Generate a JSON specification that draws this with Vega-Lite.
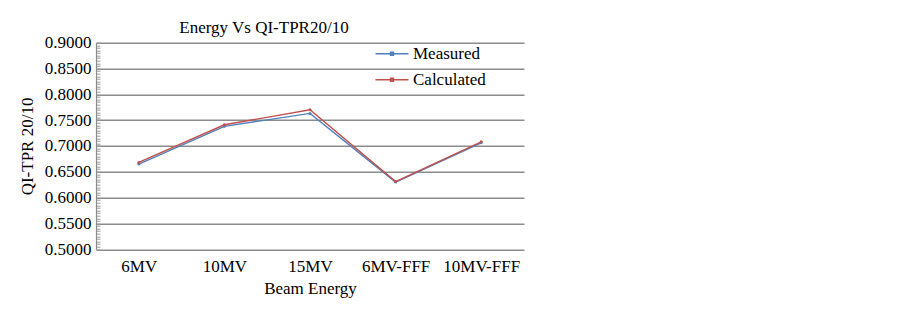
{
  "$schema": "https://vega.github.io/schema/vega-lite/v6.json",
  "autosize": {"type": "none"},
  "padding": {"left": 96, "top": 42.7, "right": 379, "bottom": 62.8},
  "width": 428,
  "height": 206.5,
  "background": "white",
  "title": {
    "text": "Energy Vs QI-TPR20/10",
    "font": "Liberation Serif",
    "fontSize": 17,
    "fontWeight": "normal",
    "color": "#000000",
    "anchor": "middle",
    "dx": -46,
    "offset": -3
  },
  "config": {
    "view": {"stroke": null},
    "font": "Liberation Serif"
  },
  "data": {
    "values": [
      {"energy": "6MV", "series": "Measured", "value": 0.665},
      {"energy": "10MV", "series": "Measured", "value": 0.738},
      {"energy": "15MV", "series": "Measured", "value": 0.763},
      {"energy": "6MV-FFF", "series": "Measured", "value": 0.630},
      {"energy": "10MV-FFF", "series": "Measured", "value": 0.706},
      {"energy": "6MV", "series": "Calculated", "value": 0.668},
      {"energy": "10MV", "series": "Calculated", "value": 0.741},
      {"energy": "15MV", "series": "Calculated", "value": 0.770},
      {"energy": "6MV-FFF", "series": "Calculated", "value": 0.631},
      {"energy": "10MV-FFF", "series": "Calculated", "value": 0.708}
    ]
  },
  "mark": {"type": "line", "strokeWidth": 1.4, "point": {"filled": true, "size": 9}},
  "encoding": {
    "x": {
      "field": "energy",
      "type": "nominal",
      "sort": ["6MV", "10MV", "15MV", "6MV-FFF", "10MV-FFF"],
      "scale": {"type": "point", "padding": 0.5},
      "axis": {
        "title": "Beam Energy",
        "labelAngle": 0,
        "domain": false,
        "ticks": false,
        "grid": false,
        "labelFont": "Liberation Serif",
        "labelFontSize": 17,
        "labelColor": "#000000",
        "labelPadding": 9,
        "titleFont": "Liberation Serif",
        "titleFontSize": 17,
        "titleFontWeight": "normal",
        "titleColor": "#000000",
        "titlePadding": 6
      }
    },
    "y": {
      "field": "value",
      "type": "quantitative",
      "scale": {"domain": [0.5, 0.9], "nice": false, "zero": false},
      "axis": {
        "title": "QI-TPR 20/10",
        "values": [0.5, 0.505, 0.51, 0.515, 0.52, 0.525, 0.53, 0.535, 0.54, 0.545, 0.55, 0.555, 0.56, 0.565, 0.57, 0.575, 0.58, 0.585, 0.59, 0.595, 0.6, 0.605, 0.61, 0.615, 0.62, 0.625, 0.63, 0.635, 0.64, 0.645, 0.65, 0.655, 0.66, 0.665, 0.67, 0.675, 0.68, 0.685, 0.69, 0.695, 0.7, 0.705, 0.71, 0.715, 0.72, 0.725, 0.73, 0.735, 0.74, 0.745, 0.75, 0.755, 0.76, 0.765, 0.77, 0.775, 0.78, 0.785, 0.79, 0.795, 0.8, 0.805, 0.81, 0.815, 0.82, 0.825, 0.83, 0.835, 0.84, 0.845, 0.85, 0.855, 0.86, 0.865, 0.87, 0.875, 0.88, 0.885, 0.89, 0.895, 0.9],
        "labelExpr": "abs(datum.value*20 - round(datum.value*20)) < 0.001 ? format(datum.value, '.4f') : ''",
        "labelFont": "Liberation Serif",
        "labelFontSize": 17,
        "labelColor": "#000000",
        "labelPadding": 9,
        "labelOverlap": false,
        "labelFlush": false,
        "domain": true,
        "domainColor": "#8c8c8c",
        "domainWidth": 1.2,
        "ticks": true,
        "tickSize": -4,
        "tickColor": "#9a9a9a",
        "tickWidth": 1,
        "grid": true,
        "gridColor": "#8c8c8c",
        "gridWidth": 1.5,
        "gridOpacity": {"condition": {"test": "abs(datum.value*20 - round(datum.value*20)) < 0.001", "value": 1}, "value": 0},
        "titleFont": "Liberation Serif",
        "titleFontSize": 17,
        "titleFontWeight": "normal",
        "titleColor": "#000000",
        "titlePadding": 8
      }
    },
    "color": {
      "field": "series",
      "type": "nominal",
      "scale": {"domain": ["Measured", "Calculated"], "range": ["#4F81BD", "#C0504D"]},
      "legend": {
        "title": null,
        "orient": "none",
        "legendX": 287,
        "legendY": 2,
        "symbolType": "M-2,0H2M-0.18,-0.18H0.18V0.18H-0.18Z",
        "symbolSize": 272,
        "symbolStrokeWidth": 1.4,
        "labelFont": "Liberation Serif",
        "labelFontSize": 17,
        "labelColor": "#000000",
        "labelOffset": 12,
        "rowPadding": 9
      }
    }
  }
}
